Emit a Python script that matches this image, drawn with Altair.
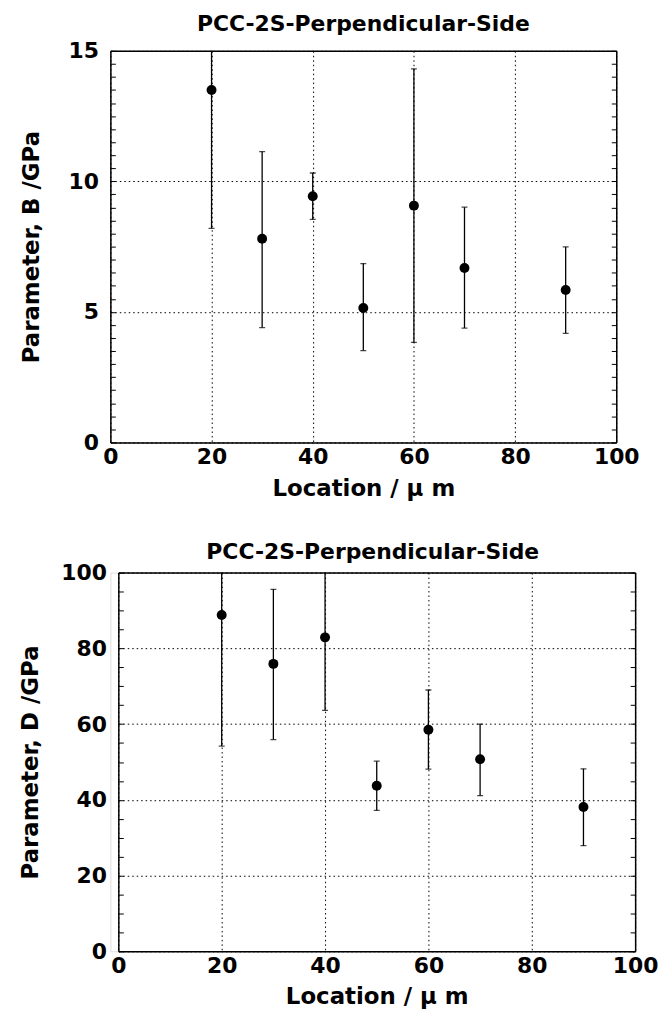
import altair as alt
import pandas as pd

# ---- data ----
location = [20, 30, 40, 50, 60, 70, 90]

b_mean = [13.5, 7.8, 9.43, 5.15, 9.07, 6.68, 5.84]
b_low = [8.2, 4.4, 8.54, 3.52, 3.83, 4.38, 4.18]
b_high = [18.8, 11.14, 10.32, 6.85, 14.31, 9.01, 7.49]

d_mean = [88.8, 75.9, 82.9, 43.7, 58.5, 50.7, 38.1]
d_low = [54.2, 55.9, 63.6, 37.2, 48.1, 41.1, 27.9]
d_high = [123.4, 95.6, 102.2, 50.2, 69.0, 60.0, 48.2]

x_ticks = [0, 20, 40, 60, 80, 100]
b_ticks = [0, 5, 10, 15]
b_minor = [0, 0.5, 1, 1.5, 2, 2.5, 3, 3.5, 4, 4.5, 5, 5.5, 6, 6.5, 7, 7.5, 8,
           8.5, 9, 9.5, 10, 10.5, 11, 11.5, 12, 12.5, 13, 13.5, 14, 14.5, 15]
d_ticks = [0, 20, 40, 60, 80, 100]
d_minor = [0, 5, 10, 15, 20, 25, 30, 35, 40, 45, 50, 55, 60, 65, 70, 75, 80,
           85, 90, 95, 100]

title_text = "PCC-2S-Perpendicular-Side"
x_title = "Location / μ m"

FONT = "DejaVu Sans"
LBL = 22
ATTL = 23
TTL = 22


def panel(mean, low, high, ymax, yticks, yminor, ytitle, w, h, tpad,
          toff, shift):
    df = pd.DataFrame({"loc": location, "mean": mean, "low": low, "high": high})
    base = alt.Chart(df)
    xscale = alt.Scale(domain=[0, 100], nice=False, zero=False,
                       range=[shift, shift + w])
    yscale = alt.Scale(domain=[0, ymax], nice=False)

    xaxis = alt.Axis(values=x_ticks, title=x_title, grid=True, gridColor="black",
                     gridDash=[1.5, 3], gridWidth=1, gridOpacity=1, ticks=False,
                     domain=True, domainColor="black", domainWidth=1.5,
                     labelFont=FONT, labelFontWeight="bold",
                     labelFontSize=LBL, labelColor="black", labelPadding=4,
                     labelFlush=False, titleFont=FONT, titleFontWeight="bold",
                     titleFontSize=ATTL, titleColor="black", titlePadding=10,
                     format="d")
    yaxis = alt.Axis(values=yticks, title=ytitle, grid=True, gridColor="black",
                     gridDash=[1.5, 3], gridWidth=1, gridOpacity=1, ticks=False,
                     domain=True, domainColor="black", domainWidth=1.5,
                     offset=-shift,
                     labelFont=FONT, labelFontWeight="bold",
                     labelFontSize=LBL, labelColor="black", labelPadding=12,
                     labelFlush=False, titleFont=FONT, titleFontWeight="bold",
                     titleFontSize=ATTL, titleColor="black", titlePadding=tpad,
                     format="d")
    minor_l = alt.Axis(values=yminor, orient="left", offset=-(shift + 5),
                       tickSize=5, labels=False, domain=False, grid=False,
                       title=None, tickColor="black", tickWidth=1)
    minor_r = alt.Axis(values=yminor, orient="right", offset=-5, tickSize=5,
                       labels=False, domain=False, grid=False, title=None,
                       tickColor="black", tickWidth=1)
    frame_x = alt.Axis(orient="top", domain=True, domainColor="black",
                       domainWidth=1.5, ticks=False, labels=False, grid=False,
                       title=None)
    frame_y = alt.Axis(orient="right", domain=True, domainColor="black",
                       domainWidth=1.5, ticks=False, labels=False, grid=False,
                       title=None)

    pts = base.mark_circle(size=100, color="black", opacity=1).encode(
        x=alt.X("loc:Q", scale=xscale, axis=xaxis),
        y=alt.Y("mean:Q", scale=yscale, axis=yaxis),
    )
    bars = base.mark_rule(color="black", strokeWidth=1.3, clip=True).encode(
        x=alt.X("loc:Q", axis=None),
        y=alt.Y("low:Q", axis=None),
        y2="high:Q",
    )
    cap_lo = base.mark_tick(color="black", orient="horizontal", size=6,
                            thickness=1.3, clip=True).encode(
        x=alt.X("loc:Q", axis=None), y=alt.Y("low:Q", axis=None))
    cap_hi = base.mark_tick(color="black", orient="horizontal", size=6,
                            thickness=1.3, clip=True).encode(
        x=alt.X("loc:Q", axis=None), y=alt.Y("high:Q", axis=None))
    tl = base.mark_point(opacity=0).encode(
        x=alt.X("loc:Q", axis=None), y=alt.Y("mean:Q", axis=minor_l))
    tr = base.mark_point(opacity=0).encode(
        x=alt.X("loc:Q", axis=None), y=alt.Y("mean:Q", axis=minor_r))
    fr = base.mark_point(opacity=0).encode(
        x=alt.X("loc:Q", axis=frame_x), y=alt.Y("mean:Q", axis=frame_y))

    return alt.layer(pts, bars, cap_lo, cap_hi, tl, tr, fr).resolve_axis(
        x="independent", y="independent").properties(
        width=w + shift, height=h,
        title=alt.TitleParams(title_text, font=FONT, fontWeight="bold",
                              fontSize=TTL, color="black", anchor="middle",
                              offset=toff),
    )


top = panel(b_mean, b_low, b_high, 15, b_ticks, b_minor,
            "Parameter,  B /GPa", 509, 394, 25, 4, 0)
bottom = panel(d_mean, d_low, d_high, 100, d_ticks, d_minor,
               "Parameter,  D /GPa", 520, 381, 18, -2, 8)

chart = alt.ConcatChart(concat=[top, bottom], columns=1, align="none",
                        spacing=39).properties(
    padding={"left": 11, "top": 1, "right": 0, "bottom": 0}
).configure_view(stroke=None).configure(background="white")

chart.save("out.html", embed_options={"renderer": "svg", "actions": False})
